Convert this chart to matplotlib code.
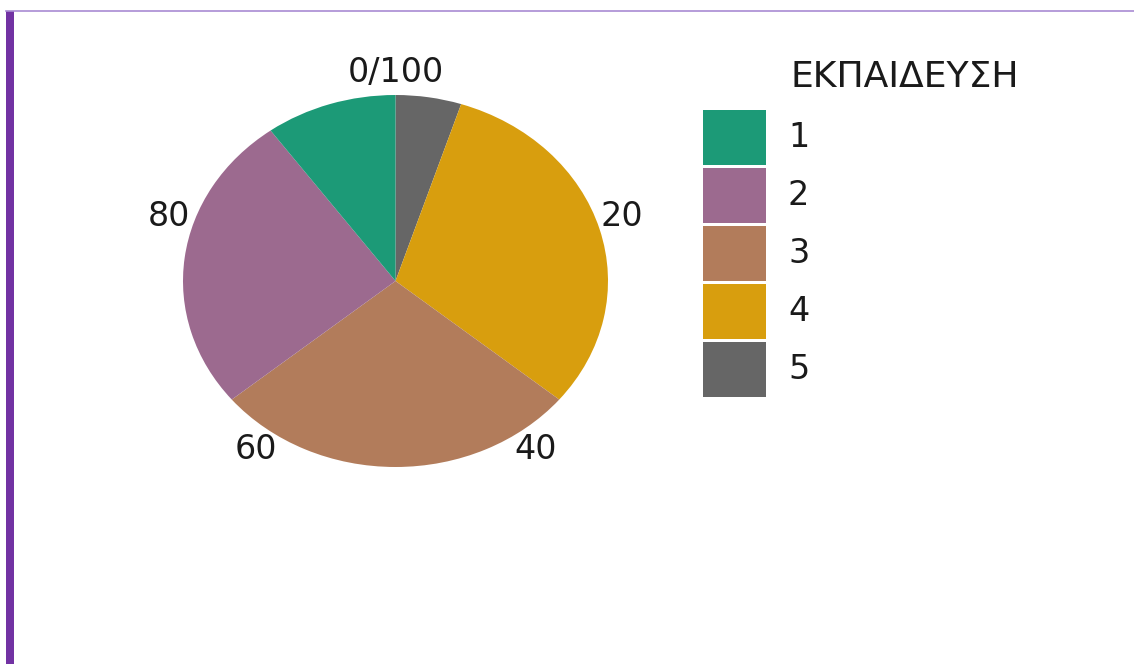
import matplotlib.pyplot as plt
from matplotlib.patches import Rectangle
import numpy as np

# Education level shares (percent)
levels = ['1', '2', '3', '4', '5']
shares = [10, 26, 28, 31, 5]
colors = ['#1c9a77', '#9c6a8f', '#b27c5b', '#d89e0e', '#666666']
ticks = [0, 20, 40, 60, 80]
tick_labels = ['0/100', '20', '40', '60', '80']
legend_title = 'ΕΚΠΑΙΔΕΥΣΗ'

W, H = 1134, 664
fig = plt.figure(figsize=(W / 100, H / 100), dpi=100)
plt.rcParams['font.family'] = ['DejaVu Sans']

def fx(px):
    return px / W

def fy(py):
    return 1 - py / H

# page decoration: thin top rule and purple side bar
fig.add_artist(plt.Line2D([fx(6), 1], [fy(11), fy(11)], color='#a98bd3', lw=1.2))
fig.add_artist(Rectangle((fx(6), 0), fx(8), fy(11), color='#7232a3', lw=0))

# pie, stacked clockwise from the top starting with the last level
ax = fig.add_axes([fx(183), fy(467), fx(425), (467 - 95) / H])
order = levels[::-1]
vals = [shares[levels.index(l)] for l in order]
cols = [colors[levels.index(l)] for l in order]
ax.pie(vals, colors=cols, startangle=90, counterclock=False,
       wedgeprops=dict(linewidth=0))
ax.set_aspect('auto')
ax.set_xlim(-1, 1)
ax.set_ylim(-1, 1)
ax.axis('off')

total = sum(shares)
r = 1.12
for t, lab in zip(ticks, tick_labels):
    ang = 2 * np.pi * t / total
    ax.text(r * np.sin(ang), r * np.cos(ang), lab, ha='center', va='center',
            fontsize=24, color='#1a1a1a', clip_on=False)

# legend
fig.text(fx(790), fy(87), legend_title, fontsize=26, color='#1a1a1a',
         ha='left', va='baseline')
for i, (lab, c) in enumerate(zip(levels, colors)):
    top = 110 + 58 * i
    fig.add_artist(Rectangle((fx(703), fy(top + 55)), fx(63), 55 / H,
                             color=c, lw=0))
    fig.text(fx(788), fy(top + 27.5), lab, fontsize=24, color='#1a1a1a',
             ha='left', va='center')

plt.savefig('out.png', dpi=100)
